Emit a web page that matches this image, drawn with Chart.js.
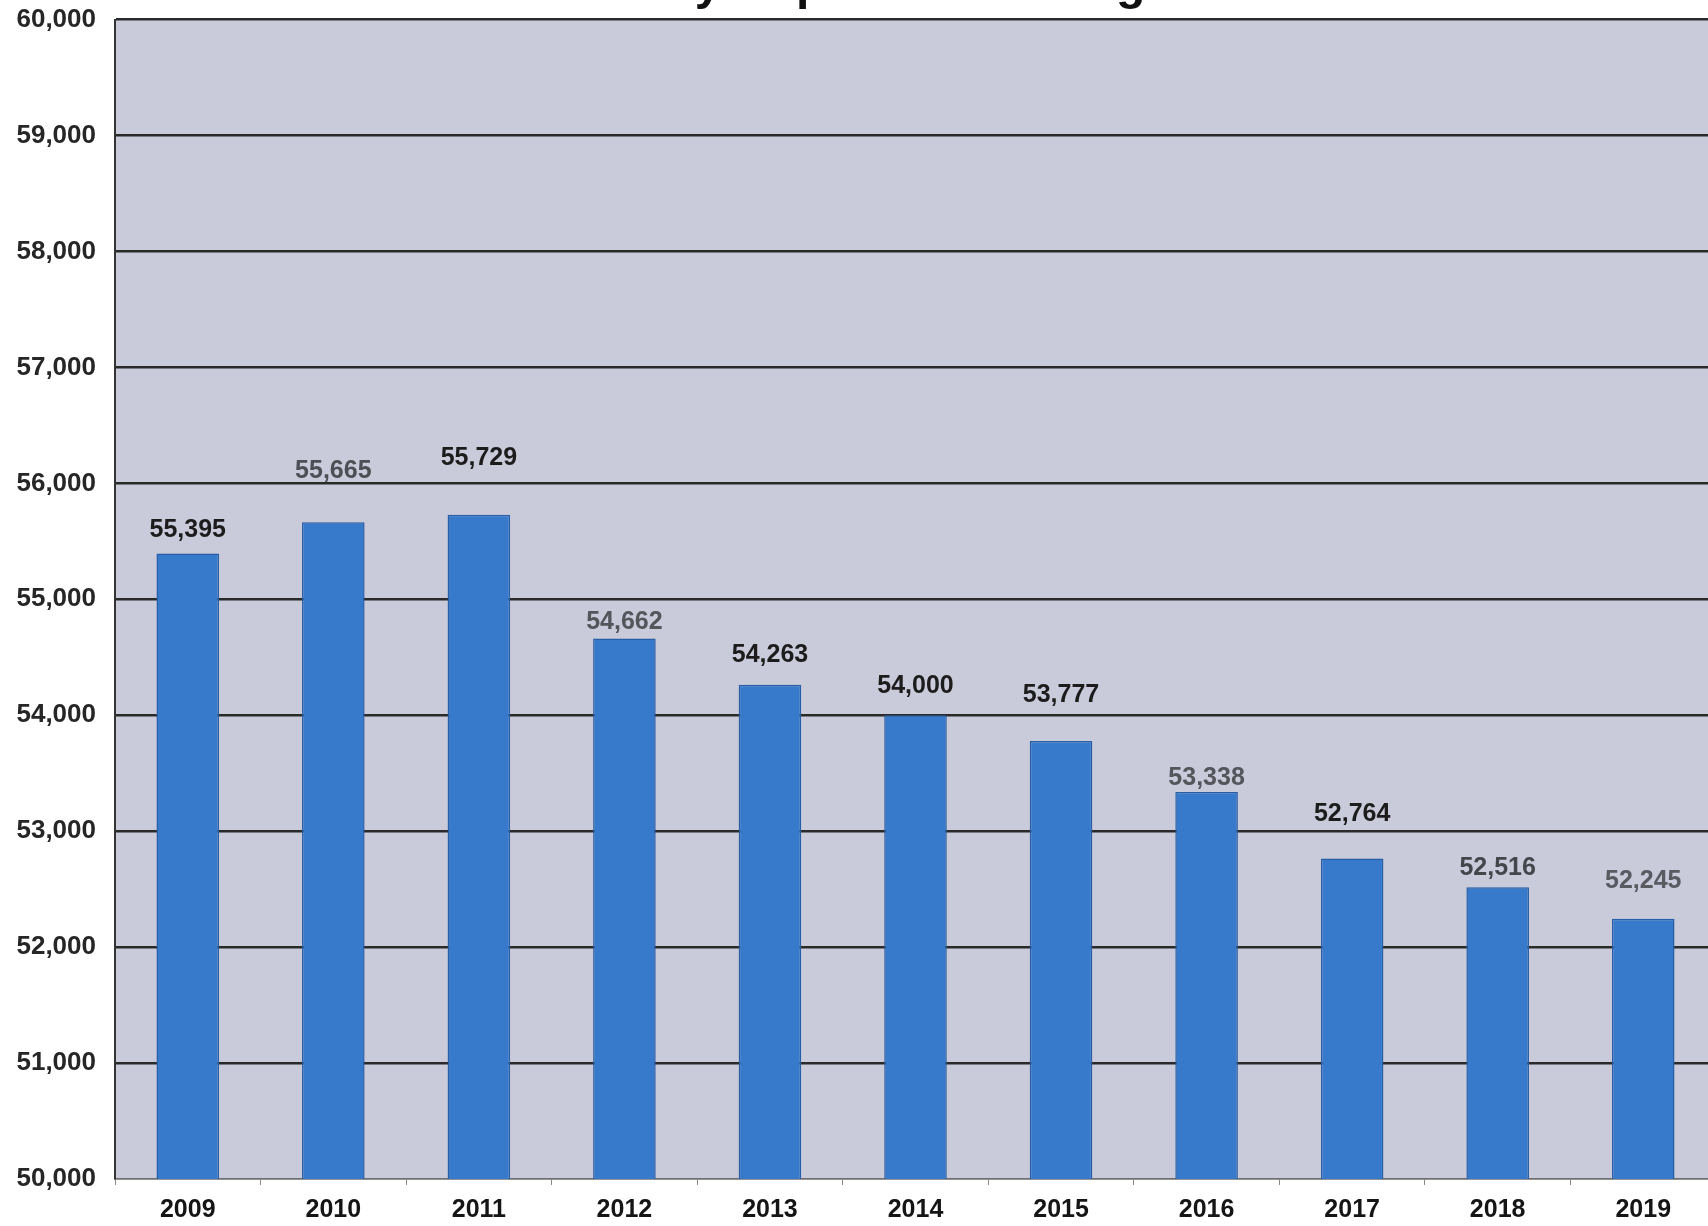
<!DOCTYPE html>
<html>
<head>
<meta charset="utf-8">
<title>Yearly Population Change</title>
<script src="https://cdn.jsdelivr.net/npm/chart.js@4/dist/chart.umd.min.js"></script>
<style>
    html, body {
        margin: 0;
        padding: 0;
        background: #ffffff;
        overflow: hidden;
    }
    .chart-wrap {
        position: relative;
        width: 1718px;
        height: 1226px;
    }
</style>
</head>
<body>
<div class="chart-wrap">
    <canvas id="populationChart" width="1718" height="1226"></canvas>
</div>

<script>
// data
const years = ['2009', '2010', '2011', '2012', '2013', '2014', '2015', '2016', '2017', '2018', '2019'];
const population = [55395, 55665, 55729, 54662, 54263, 54000, 53777, 53338, 52764, 52516, 52245];
const yTicks = [50000, 51000, 52000, 53000, 54000, 55000, 56000, 57000, 58000, 59000, 60000];

// label styling per bar (lift above the bar top, text colour)
const labelLift = [23, 51, 57, 16, 30, 29, 46, 14, 44, 19, 38];
const labelColors = ['#1c1c1c', '#4e4e56', '#1c1c1c', '#55555c', '#1c1c1c', '#1c1c1c',
                     '#1c1c1c', '#55555c', '#1c1c1c', '#45454c', '#5a5a62'];

const FONT = "'Liberation Sans', Arial, sans-serif";

// grey-lavender plot background
const plotBackground = {
    id: 'plotBackground',
    beforeDraw(chart) {
        const { ctx, chartArea: a } = chart;
        ctx.save();
        ctx.fillStyle = '#c9cada';
        ctx.fillRect(a.left, a.top, a.right - a.left, a.bottom - a.top);
        ctx.restore();
    }
};

// heading sits above the top edge, only the descenders show
const cutTitle = {
    id: 'cutTitle',
    afterDraw(chart) {
        const ctx = chart.ctx;
        ctx.save();
        ctx.font = 'bold 48px ' + FONT;
        ctx.fillStyle = '#111111';
        ctx.textAlign = 'center';
        ctx.textBaseline = 'alphabetic';
        ctx.fillText('Yearly Population Change', 876, -1);
        ctx.restore();
    }
};

// value above every bar
const valueLabels = {
    id: 'valueLabels',
    afterDatasetsDraw(chart) {
        const ctx = chart.ctx;
        const meta = chart.getDatasetMeta(0);
        ctx.save();
        ctx.font = 'bold 25px ' + FONT;
        ctx.textAlign = 'center';
        ctx.textBaseline = 'middle';
        meta.data.forEach(function(bar, i) {
            ctx.fillStyle = labelColors[i];
            ctx.fillText(population[i].toLocaleString('en-US'), bar.x, bar.y - labelLift[i]);
        });
        ctx.restore();
    }
};

document.addEventListener('DOMContentLoaded', function() {
    const chartConfig = {
        type: 'bar',
        data: {
            labels: years,
            datasets: [{
                label: 'Population',
                data: population,
                backgroundColor: '#3779ca',
                borderColor: '#285ea6',
                borderWidth: 1.5,
                barPercentage: 0.43,
                categoryPercentage: 1.0
            }]
        },
        options: {
            responsive: false,
            animation: false,
            layout: {
                padding: { top: 0, right: 2, bottom: 0, left: 0 }
            },
            plugins: {
                legend: { display: false },
                tooltip: { enabled: false },
                title: { display: false }
            },
            scales: {
                x: {
                    grid: {
                        display: true,
                        drawOnChartArea: false,
                        drawTicks: true,
                        tickLength: 6,
                        color: '#8a8a8a',
                        lineWidth: 1
                    },
                    border: { color: '#707070', width: 1.5 },
                    ticks: {
                        color: '#151515',
                        padding: 10,
                        font: { family: FONT, size: 25, weight: 'bold' }
                    },
                    afterFit(scale) {
                        scale.height = 47;
                    }
                },
                y: {
                    min: yTicks[0],
                    max: yTicks[yTicks.length - 1],
                    afterBuildTicks(scale) {
                        scale.ticks = yTicks.map(v => ({ value: v }));
                    },
                    grid: {
                        // invisible tick marks keep the labels off the axis line
                        drawTicks: true,
                        tickLength: 15,
                        tickColor: 'rgba(0,0,0,0)',
                        color: ctx => ctx.tick && ctx.tick.value === yTicks[0] ? '#707070' : '#2a2a2a',
                        lineWidth: ctx => ctx.tick && ctx.tick.value === yTicks[0] ? 1.5 : 2.5
                    },
                    border: { color: '#333333', width: 2 },
                    ticks: {
                        color: '#262626',
                        padding: 4,
                        font: { family: FONT, size: 26, weight: 'bold' },
                        callback: value => value.toLocaleString('en-US')
                    },
                    afterFit(scale) {
                        scale.width = 115;
                    }
                }
            }
        },
        plugins: [plotBackground, valueLabels, cutTitle]
    };

    const canvas = document.getElementById('populationChart');
    const populationChart = new Chart(canvas, chartConfig);
});
</script>
</body>
</html>
